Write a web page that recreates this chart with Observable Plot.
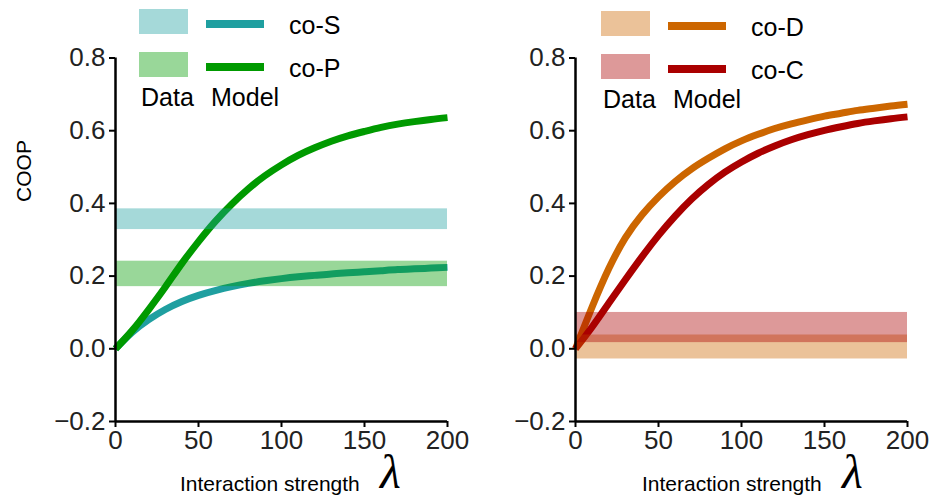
<!DOCTYPE html>
<html><head><meta charset="utf-8">
<script src="https://cdn.jsdelivr.net/npm/d3@7"></script>
<script src="https://cdn.jsdelivr.net/npm/@observablehq/plot@0.6"></script>
<style>
body{margin:0;background:#fff;}
#chart{display:flex;width:944px;height:499px;}
#chart svg{overflow:visible;display:block}
</style></head><body><div id="chart"></div>
<script>
// ---- data ----
const lambda = [0,10,20,30,40,50,60,70,80,90,100,110,120,130,140,150,160,170,180,190,200];
const coS = [0,0.045,0.08,0.108,0.13,0.147,0.16,0.171,0.18,0.187,0.193,0.198,0.202,0.206,0.209,0.212,0.215,0.218,0.22,0.222,0.224];
const coP = [0,0.05,0.108,0.17,0.235,0.295,0.35,0.398,0.44,0.476,0.506,0.532,0.553,0.571,0.586,0.598,0.609,0.618,0.625,0.631,0.636];
const coD = [0,0.115,0.22,0.305,0.368,0.418,0.46,0.495,0.524,0.55,0.572,0.59,0.606,0.619,0.63,0.64,0.648,0.656,0.662,0.668,0.673];
const coC = [0,0.06,0.125,0.19,0.253,0.312,0.365,0.412,0.452,0.486,0.514,0.538,0.558,0.575,0.589,0.601,0.611,0.62,0.627,0.633,0.638];
const seriesNames = ["co-S","co-P","co-D","co-C"];
const bandLow  = {"co-S":0.328,"co-P":0.171,"co-D":-0.028,"co-C":0.017};
const bandHigh = {"co-S":0.385,"co-P":0.241,"co-D":0.038,"co-C":0.100};
const colors = {"co-S":"#1f9fa0","co-P":"#009a00","co-D":"#cc6600","co-C":"#aa0000"};
const xTicks = [0,50,100,150,200];
const yTicks = [-0.2,0,0.2,0.4,0.6,0.8];
const modelValues = {"co-S":coS,"co-P":coP,"co-D":coD,"co-C":coC};

const FONT = "Liberation Sans, Arial, sans-serif";
const BAND_OPACITY = 0.4;

function panel(opts){
  const {names, marginLeft, marginRight, showY, legendX, legendDy} = opts;
  const lineData = names.flatMap(n => lambda.map((l,i)=>({series:n, x:l, y:modelValues[n][i]})));
  const bands = names.map(n => ({series:n, lo:bandLow[n], hi:bandHigh[n]}));
  const p = Plot.plot({
    width: 472, height: 499,
    marginLeft, marginRight, marginTop: 57.5, marginBottom: 78,
    style: {fontFamily: FONT, color: "#222", background: "transparent"},
    x: {domain: [0,200]},
    y: {domain: [-0.2,0.8]},
    marks: [
      Plot.line(lineData, {x:"x", y:"y", z:"series", stroke: d=>colors[d.series], strokeWidth: 7, curve: "natural", strokeLinecap: "butt"}),
      Plot.rect(bands, {x1: ()=>0, x2: ()=>200, y1: "lo", y2: "hi", fill: d=>colors[d.series], fillOpacity: BAND_OPACITY}),
      Plot.ruleX([0], {y1: -0.2, y2: 0.8, stroke: "#000", strokeWidth: 2.5}),
      Plot.ruleY([-0.2], {x1: 0, x2: 200, stroke: "#000", strokeWidth: 2.5}),
      Plot.axisX({ticks: xTicks, tickSize: 6, tickPadding: 3, strokeWidth: 2, stroke: "#000", fontSize: 26, fill: "#222", label: null, tickFormat: d3.format("d")}),
      Plot.axisY({ticks: yTicks, tickSize: 6, tickPadding: 4, strokeWidth: 2, stroke: "#000", fontSize: 26, fill: "#222", label: null, tickFormat: d3.format(".1f")})
    ]
  });
  const svg = d3.select(p);
  const g = svg.append("g").attr("font-family", FONT).attr("text-anchor", "start");
  names.forEach((n,i)=>{
    const y0 = 9 + legendDy + i*43;
    g.append("rect").attr("x", legendX).attr("y", y0).attr("width", 49).attr("height", 25)
      .attr("fill", colors[n]).attr("fill-opacity", BAND_OPACITY);
    g.append("line").attr("x1", legendX+67).attr("x2", legendX+125)
      .attr("y1", y0+15).attr("y2", y0+15).attr("stroke", colors[n]).attr("stroke-width", 8);
    g.append("text").attr("x", legendX+150).attr("y", y0+25).attr("font-size", 25).attr("fill", "#000").text(n);
  });
  g.append("text").attr("x", legendX+2).attr("y", 106+legendDy).attr("font-size", 25).attr("fill","#000").text("Data");
  g.append("text").attr("x", legendX+72).attr("y", 106+legendDy).attr("font-size", 25).attr("fill","#000").text("Model");
  // x label
  const cx = opts.xlabelX;
  g.append("text").attr("x", cx).attr("y", 491).attr("font-size", 21).attr("fill","#000").text("Interaction strength");
  g.append("text").attr("x", cx+200).attr("y", 488).attr("font-size", 48).attr("font-style","italic")
    .attr("font-family","Liberation Serif, Times New Roman, serif").attr("fill","#000").text("λ");
  if (showY) {
    g.append("text").attr("transform","translate(31,171) rotate(-90)").attr("text-anchor","middle")
      .attr("font-size", 21).attr("fill","#000").text("COOP");
  }
  return p;
}

const chart = document.getElementById("chart");
chart.appendChild(panel({names:["co-S","co-P"], marginLeft:115, marginRight:25, showY:true, legendX:139, legendDy:0, xlabelX:180}));
chart.appendChild(panel({names:["co-D","co-C"], marginLeft:103, marginRight:37, showY:false, legendX:129, legendDy:2, xlabelX:170}));
</script></body></html>
